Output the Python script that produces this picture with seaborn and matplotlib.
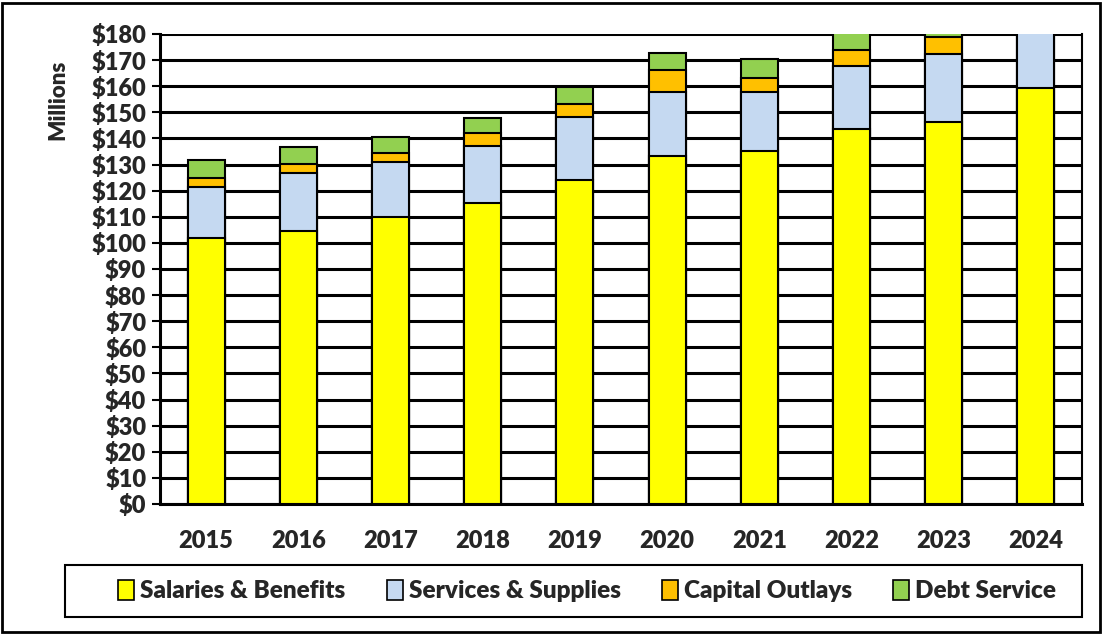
import numpy as np
import pandas as pd
import matplotlib.pyplot as plt
import matplotlib.patches as mpatches
import seaborn as sns

# Data (millions of dollars)
years = ["2015", "2016", "2017", "2018", "2019", "2020", "2021", "2022", "2023", "2024"]
salaries = [102.0, 104.7, 110.0, 115.3, 124.2, 133.4, 135.3, 143.6, 146.3, 159.5]
services = [19.5, 22.1, 21.0, 21.8, 24.0, 24.4, 22.6, 24.2, 25.9, 26.0]
capital = [3.4, 3.4, 3.4, 5.0, 5.0, 8.4, 5.4, 6.1, 6.8, 6.0]
debt = [7.0, 6.5, 6.2, 5.7, 6.5, 6.5, 7.1, 7.0, 6.5, 7.0]

series_names = ["Salaries & Benefits", "Services & Supplies", "Capital Outlays", "Debt Service"]
colors = ["#FFFF00", "#C5D9F1", "#FFC000", "#92D050"]
y_ticks = list(range(0, 181, 10))

sns.set_style("white")
plt.rcParams["font.family"] = ["Lato", "DejaVu Sans"]
W = "heavy"

df = pd.DataFrame({"year": years, "s1": salaries, "s2": services, "s3": capital, "s4": debt})
cum = df[["s1", "s2", "s3", "s4"]].cumsum(axis=1)

fig = plt.figure(figsize=(11.04, 6.35), dpi=100)
ax = fig.add_axes([0.145, 0.2063, 0.835, 0.7402])

# stacked bars: draw the tallest cumulative first, then cover with lower parts
for col, c in zip(["s4", "s3", "s2", "s1"], colors[::-1]):
    sns.barplot(x=df["year"], y=cum[col], color=c, width=0.4, edgecolor="black",
                linewidth=1.5, ax=ax, zorder=3, saturation=1)

ax.set_ylim(0, 180)
ax.set_xlim(-0.5, len(years) - 0.5)
ax.set_yticks(y_ticks)
ax.set_yticklabels([f"${v}" for v in y_ticks], fontsize=17, fontweight=W)
ax.yaxis.grid(True, color="black", linewidth=2.2, zorder=0)
ax.set_axisbelow(True)

# category boundary ticks on x, labels at centres
ax.set_xticks(np.arange(-0.5, len(years), 1.0))
ax.set_xticklabels([])
ax.set_xticks(np.arange(len(years)), minor=True)
ax.set_xticklabels(years, minor=True, fontsize=17, fontweight=W)
ax.tick_params(axis="x", which="major", direction="out", length=9, width=1.5, color="black")
ax.tick_params(axis="x", which="minor", length=0, pad=19)
ax.tick_params(axis="y", direction="out", length=6, width=1.5, color="black", left=True, pad=4)

ax.set_xlabel("")
ax.set_ylabel("Millions", fontsize=16, fontweight=W, labelpad=-2)
ax.yaxis.set_label_coords(-0.1, 0.86)

for side in ["left", "bottom"]:
    ax.spines[side].set_color("black")
    ax.spines[side].set_linewidth(2.2)
ax.spines["right"].set_color("black")
ax.spines["right"].set_linewidth(1.5)
ax.spines["top"].set_visible(False)

# legend box
fig.patches.append(mpatches.Rectangle((0.059, 0.028), 0.921, 0.082, transform=fig.transFigure,
                                      fill=False, edgecolor="black", linewidth=1.5))
handles = [mpatches.Patch(facecolor=c, edgecolor="black", linewidth=1.2) for c in colors]
fig.legend(handles, series_names, loc="center", ncol=4,
           bbox_to_anchor=(0.532, 0.069), frameon=False,
           prop={"size": 17.5, "weight": W}, handlelength=0.65,
           handleheight=0.9, handletextpad=0.25, borderaxespad=0, columnspacing=1.7)

# outer chart border
fig.patches.append(mpatches.Rectangle((0.002, 0.004), 0.994, 0.992, transform=fig.transFigure,
                                      fill=False, edgecolor="black", linewidth=2))

plt.savefig("out.png", dpi=100)
